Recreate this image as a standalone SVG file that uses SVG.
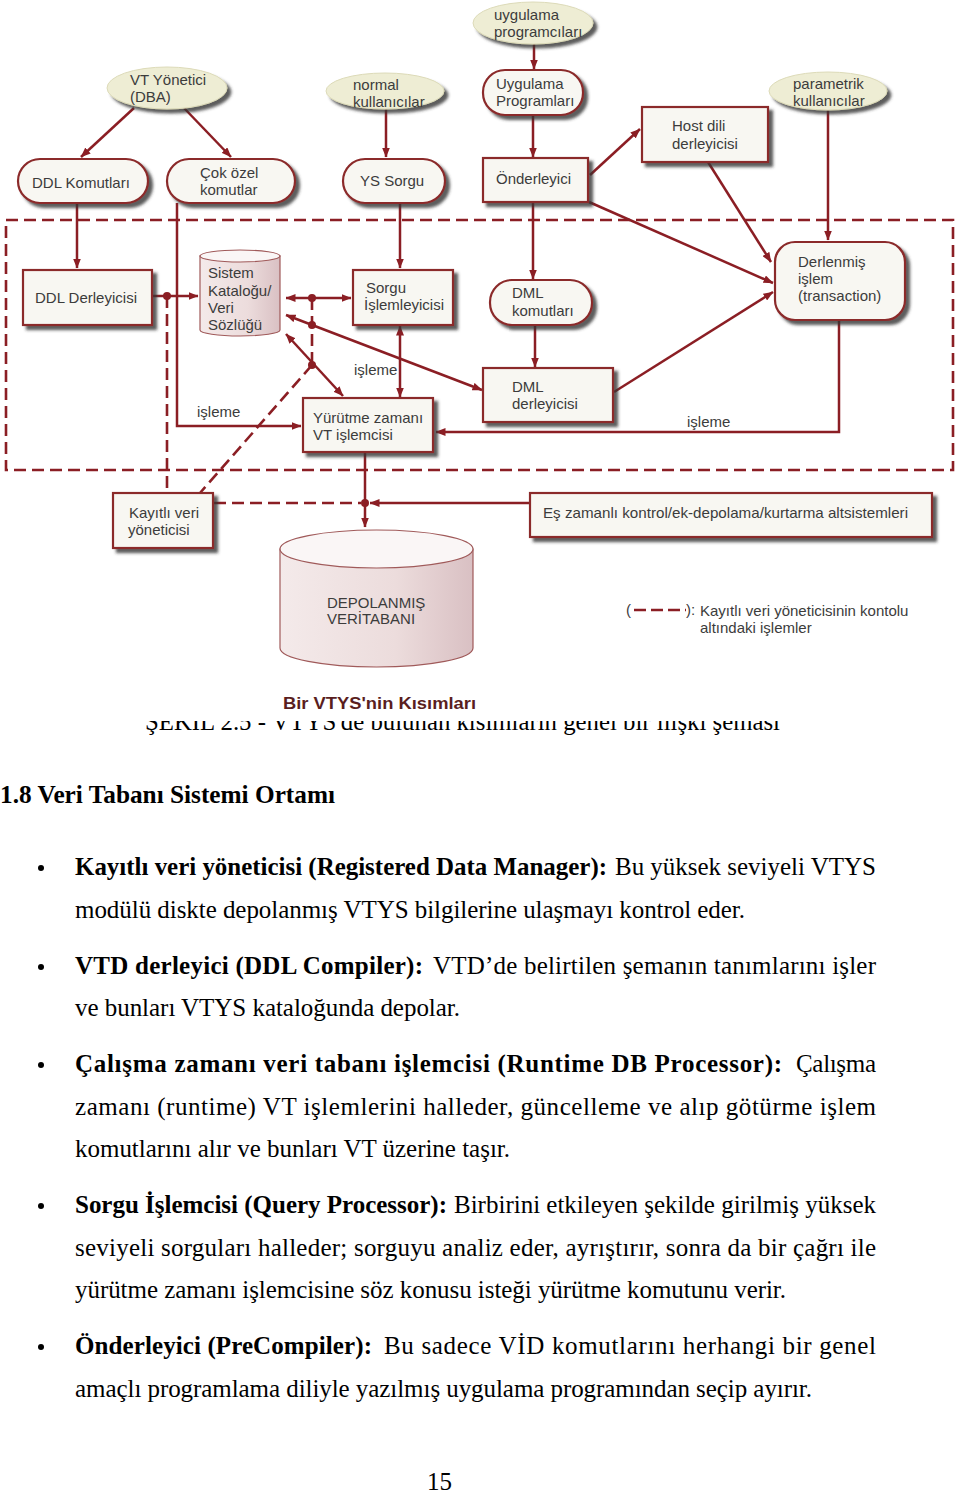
<svg xmlns="http://www.w3.org/2000/svg" width="960" height="1493" viewBox="0 0 960 1493">
<style>
.box{fill:#f8f7f2;stroke:#8b2a2a;stroke-width:2.2;filter:url(#sh)}
.actor{fill:#eeedd4;stroke:#dcdab8;stroke-width:1;filter:url(#sh)}
.cyl{fill:url(#cg);stroke:#a05a5a;stroke-width:1.2}
.cyltop{fill:#faf6f6;stroke:#a05a5a;stroke-width:1.2}
.lbl{font-family:"Liberation Sans",Arial,sans-serif;font-size:15px;fill:#3c3c3c}
.ln{fill:none;stroke:#8b1e24;stroke-width:2.5}
.dash{fill:none;stroke:#8b1e24;stroke-width:2.6;stroke-dasharray:12 6}
.dot{fill:#8b1e24}
.body{font-family:"Liberation Serif","Times New Roman",serif;font-size:25px;fill:#000}
.b{font-weight:bold}
</style>
<defs>
<filter id="sh" x="-10%" y="-10%" width="130%" height="140%">
<feGaussianBlur in="SourceAlpha" stdDeviation="1.8"/>
<feOffset dx="4" dy="4" result="o"/>
<feFlood flood-color="#333" flood-opacity="0.8"/>
<feComposite in2="o" operator="in"/>
<feMerge><feMergeNode/><feMergeNode in="SourceGraphic"/></feMerge>
</filter>
<linearGradient id="cg" x1="0" y1="0" x2="1" y2="0">
<stop offset="0" stop-color="#f4eaea"/>
<stop offset="0.6" stop-color="#ecdcdc"/>
<stop offset="1" stop-color="#d9c0c3"/>
</linearGradient>
<marker id="ah" viewBox="0 0 10 8" refX="9.5" refY="4" markerWidth="10" markerHeight="8" markerUnits="userSpaceOnUse" orient="auto-start-reverse">
<path d="M0,0 L10,4 L0,8 z" fill="#8b1e24"/>
</marker>
<clipPath id="capclip"><rect x="0" y="721" width="960" height="20"/></clipPath>
</defs>

<rect width="960" height="1493" fill="#fff"/>

<!-- boundary -->
<rect id="boundary" x="6" y="220" width="947" height="250" class="dash"/>

<!-- connectors -->
<g id="connectors">
<path class="ln" d="M134,108 L81,157" marker-end="url(#ah)"/>
<path class="ln" d="M184,108 L231,157" marker-end="url(#ah)"/>
<path class="ln" d="M386,109 L386,157" marker-end="url(#ah)"/>
<path class="ln" d="M534,44 L534,69" marker-end="url(#ah)"/>
<path class="ln" d="M533,115 L533,157" marker-end="url(#ah)"/>
<path class="ln" d="M590,175 L640,129" marker-end="url(#ah)"/>
<path class="ln" d="M708,162 L771,262" marker-end="url(#ah)"/>
<path class="ln" d="M589,202 L773,283" marker-end="url(#ah)"/>
<path class="ln" d="M828,110 L828,240" marker-end="url(#ah)"/>
<path class="ln" d="M614,392 L773,292" marker-end="url(#ah)"/>
<path class="ln" d="M533,202 L533,279" marker-end="url(#ah)"/>
<path class="ln" d="M535,325 L535,367" marker-end="url(#ah)"/>
<path class="ln" d="M839,320 L839,432 L436,432" marker-end="url(#ah)"/>
<path class="ln" d="M77,203 L77,268" marker-end="url(#ah)"/>
<path class="ln" d="M177,203 L177,426 L301,426" marker-end="url(#ah)"/>
<path class="ln" d="M400,203 L400,268" marker-end="url(#ah)"/>
<path class="ln" d="M153,296 L198,296" marker-end="url(#ah)"/>
<path class="ln" d="M286,298 L351,298" marker-start="url(#ah)" marker-end="url(#ah)"/>
<path class="ln" d="M400,326 L400,397" marker-start="url(#ah)" marker-end="url(#ah)"/>
<path class="ln" d="M286,334 L343,396" marker-start="url(#ah)" marker-end="url(#ah)"/>
<path class="ln" d="M286,315 L482,390" marker-start="url(#ah)" marker-end="url(#ah)"/>
<path class="ln" d="M365,453 L365,527" marker-end="url(#ah)"/>
<path class="ln" d="M530,503 L370,503" marker-end="url(#ah)"/>
<path class="dash" d="M167,296 L167,493"/>
<path class="dash" d="M312,298 L312,365"/>
<path class="dash" d="M312,365 L200,493"/>
<path class="dash" d="M214,503 L361,503"/>
<circle class="dot" cx="167" cy="296" r="4"/>
<circle class="dot" cx="312" cy="298" r="4"/>
<circle class="dot" cx="312" cy="325" r="4"/>
<circle class="dot" cx="312" cy="365" r="4"/>
<circle class="dot" cx="365" cy="503" r="4"/>
<text class="lbl" x="197" y="417">işleme</text>
<text class="lbl" x="354" y="375">işleme</text>
<text class="lbl" x="687" y="427">işleme</text>
</g>

<!-- actors -->
<g id="dba"><ellipse class="actor" cx="167" cy="88" rx="60" ry="21"/>
<text class="lbl" x="130" y="85">VT Yönetici</text><text class="lbl" x="130" y="102">(DBA)</text></g>
<g id="normal"><ellipse class="actor" cx="385" cy="91" rx="59" ry="18"/>
<text class="lbl" x="353" y="90">normal</text><text class="lbl" x="353" y="107">kullanıcılar</text></g>
<g id="uygprog"><ellipse class="actor" cx="533" cy="23" rx="60" ry="21"/>
<text class="lbl" x="494" y="20">uygulama</text><text class="lbl" x="494" y="37">programcıları</text></g>
<g id="parametrik"><ellipse class="actor" cx="828" cy="91" rx="59" ry="19"/>
<text class="lbl" x="793" y="89">parametrik</text><text class="lbl" x="793" y="106">kullanıcılar</text></g>

<!-- pills -->
<g id="ddlkom"><rect class="box" x="18" y="159" width="130" height="44" rx="22"/>
<text class="lbl" x="32" y="188">DDL Komutları</text></g>
<g id="cokozel"><rect class="box" x="167" y="159" width="128" height="44" rx="22"/>
<text class="lbl" x="200" y="178">Çok özel</text><text class="lbl" x="200" y="195">komutlar</text></g>
<g id="yssorgu"><rect class="box" x="343" y="159" width="102" height="44" rx="22"/>
<text class="lbl" x="360" y="186">YS Sorgu</text></g>
<g id="uygprogramlari"><rect class="box" x="483" y="70" width="100" height="45" rx="22"/>
<text class="lbl" x="496" y="89">Uygulama</text><text class="lbl" x="496" y="106">Programları</text></g>
<g id="dmlkom"><rect class="box" x="490" y="280" width="102" height="45" rx="22"/>
<text class="lbl" x="512" y="298">DML</text><text class="lbl" x="512" y="316">komutları</text></g>
<g id="derlenmis"><rect class="box" x="775" y="242" width="130" height="78" rx="20"/>
<text class="lbl" x="798" y="267">Derlenmiş</text><text class="lbl" x="798" y="284">işlem</text><text class="lbl" x="798" y="301">(transaction)</text></g>

<!-- rectangles -->
<g id="hostdili"><rect class="box" x="642" y="107" width="126" height="55"/>
<text class="lbl" x="672" y="131">Host dili</text><text class="lbl" x="672" y="149">derleyicisi</text></g>
<g id="onderleyici"><rect class="box" x="483" y="158" width="105" height="44"/>
<text class="lbl" x="496" y="184">Önderleyici</text></g>
<g id="ddlderleyici"><rect class="box" x="23" y="270" width="129" height="55"/>
<text class="lbl" x="35" y="303">DDL Derleyicisi</text></g>
<g id="sorguisl"><rect class="box" x="353" y="270" width="100" height="55"/>
<text class="lbl" x="366" y="293">Sorgu</text><text class="lbl" x="364" y="310">İşlemleyicisi</text></g>
<g id="yurutme"><rect class="box" x="303" y="398" width="130" height="54"/>
<text class="lbl" x="313" y="423">Yürütme zamanı</text><text class="lbl" x="313" y="440">VT işlemcisi</text></g>
<g id="dmlderleyici"><rect class="box" x="483" y="368" width="130" height="54"/>
<text class="lbl" x="512" y="392">DML</text><text class="lbl" x="512" y="409">derleyicisi</text></g>
<g id="kayitli"><rect class="box" x="113" y="493" width="100" height="55"/>
<text class="lbl" x="129" y="518">Kayıtlı veri</text><text class="lbl" x="128" y="535">yöneticisi</text></g>
<g id="eszamanli"><rect class="box" x="530" y="493" width="402" height="44"/>
<text class="lbl" x="543" y="518" textLength="365" lengthAdjust="spacingAndGlyphs">Eş zamanlı kontrol/ek-depolama/kurtarma altsistemleri</text></g>

<!-- cylinders -->
<g id="katalog">
<path class="cyl" d="M200,256 L200,330 A40,6 0 0 0 280,330 L280,256 Z"/>
<ellipse class="cyltop" cx="240" cy="256" rx="40" ry="6"/>
<text class="lbl" x="208" y="278">Sistem</text><text class="lbl" x="208" y="296">Kataloğu/</text><text class="lbl" x="208" y="313">Veri</text><text class="lbl" x="208" y="330">Sözlüğü</text>
</g>
<g id="depolanmis">
<path class="cyl" d="M280,549 L280,648 A96.5,19 0 0 0 473,648 L473,549 Z"/>
<ellipse class="cyltop" cx="376.5" cy="549" rx="96.5" ry="19"/>
<text class="lbl" x="327" y="608">DEPOLANMIŞ</text><text class="lbl" x="327" y="624">VERİTABANI</text>
</g>

<!-- legend -->
<g id="legend">
<text class="lbl" x="626" y="615">(</text>
<path d="M634,610 L686,610" stroke="#8b1e24" stroke-width="2.5" stroke-dasharray="12 5" fill="none"/>
<text class="lbl" x="686" y="615">):</text>
<text class="lbl" x="700" y="616">Kayıtlı veri yöneticisinin kontolu</text>
<text class="lbl" x="700" y="633">altındaki işlemler</text>
</g>

<text x="283" y="709" font-family="'Liberation Sans',Arial,sans-serif" font-size="17" font-weight="bold" fill="#5a1e1e" textLength="193" lengthAdjust="spacingAndGlyphs">Bir VTYS'nin Kısımları</text>

<g clip-path="url(#capclip)">
<text class="body" x="145" y="730" textLength="635" lengthAdjust="spacingAndGlyphs">ŞEKİL 2.5 - VTYS'de bulunan kısımların genel bir ilişki şeması</text>
</g>

<!-- body text -->
<g id="bodytext">
<text class="body b" x="0" y="803" textLength="335" lengthAdjust="spacingAndGlyphs">1.8 Veri Tabanı Sistemi Ortamı</text>
<circle cx="41" cy="868" r="3"/>
<circle cx="41" cy="967" r="3"/>
<circle cx="41" cy="1065" r="3"/>
<circle cx="41" cy="1206" r="3"/>
<circle cx="41" cy="1347" r="3"/>
<text class="body b" x="75" y="875" textLength="532" lengthAdjust="spacingAndGlyphs">Kayıtlı veri yöneticisi (Registered Data Manager):</text>
<text class="body" x="615" y="875" textLength="261">Bu yüksek seviyeli VTYS</text>
<text class="body" x="75" y="918" textLength="670">modülü diskte depolanmış VTYS bilgilerine ulaşmayı kontrol eder.</text>
<text class="body b" x="75" y="974" textLength="348">VTD derleyici (DDL Compiler):</text>
<text class="body" x="433" y="974" textLength="443">VTD’de belirtilen şemanın tanımlarını işler</text>
<text class="body" x="75" y="1016" textLength="385">ve bunları VTYS kataloğunda depolar.</text>
<text class="body b" x="75" y="1072" textLength="707">Çalışma zamanı veri tabanı işlemcisi (Runtime DB Processor):</text>
<text class="body" x="796" y="1072" textLength="80">Çalışma</text>
<text class="body" x="75" y="1115" textLength="801">zamanı (runtime) VT işlemlerini halleder, güncelleme ve alıp götürme işlem</text>
<text class="body" x="75" y="1157" textLength="435">komutlarını alır ve bunları VT üzerine taşır.</text>
<text class="body b" x="75" y="1213" textLength="372">Sorgu İşlemcisi (Query Processor):</text>
<text class="body" x="454" y="1213" textLength="422">Birbirini etkileyen şekilde girilmiş yüksek</text>
<text class="body" x="75" y="1256" textLength="801">seviyeli sorguları halleder; sorguyu analiz eder, ayrıştırır, sonra da bir çağrı ile</text>
<text class="body" x="75" y="1298" textLength="711">yürütme zamanı işlemcisine söz konusu isteği yürütme komutunu verir.</text>
<text class="body b" x="75" y="1354" textLength="297">Önderleyici (PreCompiler):</text>
<text class="body" x="384" y="1354" textLength="492">Bu sadece VİD komutlarını herhangi bir genel</text>
<text class="body" x="75" y="1397" textLength="737">amaçlı programlama diliyle yazılmış uygulama programından seçip ayırır.</text>
<text class="body" x="427" y="1490">15</text>
</g>
</svg>
